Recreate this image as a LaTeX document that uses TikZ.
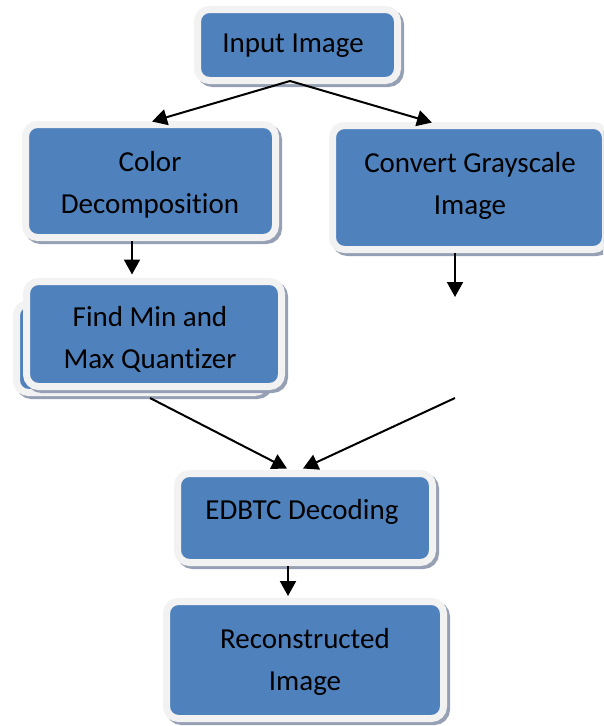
\documentclass[tikz,border=0pt]{standalone}
\usepackage{fontspec}
\setmainfont{Carlito}[Ligatures=NoCommon]
\usetikzlibrary{arrows.meta,calc}
\definecolor{boxblue}{RGB}{79,129,189}
\definecolor{rimgray}{RGB}{242,242,242}
\definecolor{shadowgray}{RGB}{150,160,180}
\tikzset{
  stagebox/.style={rectangle, rounded corners=12pt, fill=boxblue, draw=rimgray,
    line width=7pt, inner sep=0pt,
    preaction={draw=shadowgray, fill=shadowgray, line width=7pt,
      transform canvas={shift={(3pt,-3pt)}}}},
  stagetext/.style={font=\fontsize{29}{42}\selectfont, align=center, text=black, inner sep=0pt},
  flow/.style={line width=2pt, -{Triangle[length=15pt,width=16pt]}},
}
\begin{document}
\begin{tikzpicture}[x=1pt,y=-1pt]
  \useasboundingbox (0,0) rectangle (603,726);
  \clip (0,0) rectangle (603,726);

  % process boxes
  \node[stagebox, minimum width=200pt, minimum height=71pt] (input) at (297.5,45) {};
  \node[stagebox, minimum width=250pt, minimum height=113pt] (color) at (150.5,181) {};
  \node[stagebox, minimum width=273pt, minimum height=124pt] (convert) at (469,187.5) {};
  \node[stagebox, minimum width=250pt, minimum height=89pt] (findback) at (141.5,348) {};
  \node[stagebox, minimum width=255pt, minimum height=105pt] (find) at (154,334) {};
  \node[stagebox, minimum width=255pt, minimum height=89pt] (edbtc) at (305,518) {};
  \node[stagebox, minimum width=277pt, minimum height=117pt] (recon) at (305,660) {};

  % labels
  \node[stagetext] (tinput) at (293,46) {Input Image};
  \node[stagetext] (tcolor) at (150,184.5) {Color\\Decomposition};
  \node[stagetext] (tconvert) at (470,185.5) {Convert Grayscale\\Image};
  \node[stagetext] (tfind) at (150,339) {Find Min and\\Max Quantizer};
  \node[stagetext] (tedbtc) at (302,512) {EDBTC Decoding};
  \node[stagetext] (trecon) at (305,661.5) {Reconstructed\\Image};

  % connector end points
  \coordinate (split) at (290,81);
  \coordinate (grayend) at (455,297);
  \coordinate (graystart) at (455,398);
  \coordinate (findout) at (150,398);

  % connectors
  \draw[flow] (split) -- ($(color.north)+(1.5,0.5)$);
  \draw[flow] (split) -- ($(convert.north)+(-37,0.5)$);
  \draw[flow] (color.south -| 132,0) -- ($(find.north -| 132,0)+(0,-3.5)$);
  \draw[flow] (convert.south -| grayend) -- (grayend);
  \draw[flow] (findout) -- ($(edbtc.north)+(-18,-1.5)$);
  \draw[flow] (graystart) -- ($(edbtc.north)+(-2,-1.5)$);
  \draw[flow] (edbtc.south -| 288,0) -- ($(recon.north -| 288,0)+(0,-2)$);
\end{tikzpicture}
\end{document}
